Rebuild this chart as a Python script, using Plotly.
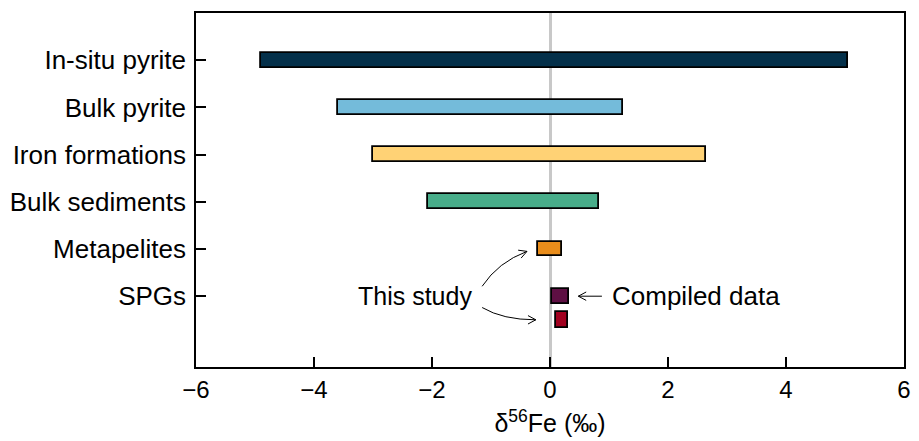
import math
import plotly.graph_objects as go

# ---- data ----
categories = ["In-situ pyrite", "Bulk pyrite", "Iron formations", "Bulk sediments", "Metapelites", "SPGs"]
cat_pos = [6, 5, 4, 3, 2, 1]
range_min = [-4.90, -3.60, -3.00, -2.07, -0.20, 0.03]
range_max = [5.05, 1.23, 2.64, 0.83, 0.20, 0.33]
colors = ["#04304A", "#74BBDA", "#FFD275", "#48AD8A", "#E98D1B", "#5E0F43"]

study_pos = [0.5]
study_min = [0.10]
study_max = [0.31]
study_color = "#A1001F"

x_ticks = [-6, -4, -2, 0, 2, 4, 6]

# ---- figure ----
fig = go.Figure()
fig.add_trace(go.Bar(
    y=cat_pos, x=[b - a for a, b in zip(range_min, range_max)], base=range_min,
    orientation="h", width=0.31,
    marker=dict(color=colors, line=dict(color="black", width=1.8)),
    showlegend=False, hoverinfo="skip"))
fig.add_trace(go.Bar(
    y=study_pos, x=[b - a for a, b in zip(study_min, study_max)], base=study_min,
    orientation="h", width=0.33,
    marker=dict(color=study_color, line=dict(color="black", width=1.8)),
    showlegend=False, hoverinfo="skip"))

FONT = "Liberation Sans, Arial, Helvetica, sans-serif"

# pixel scale helpers (plot area 715 x 355 px)
PX_X = 715 / 12.0
PX_Y = 355 / 7.5

shapes = []

def curve(x0, y0, cx, cy, x1, y1):
    shapes.append(dict(type="path", xref="x", yref="y",
                       path=f"M {x0},{y0} Q {cx},{cy} {x1},{y1}",
                       line=dict(color="black", width=1)))

def chevron(tx, ty, fx, fy, size=9, ang=28):
    dxp = (tx - fx) * PX_X
    dyp = (ty - fy) * PX_Y
    th = math.atan2(dyp, dxp)
    pts = []
    for s in (1, -1):
        a = th + math.pi + s * math.radians(ang)
        pts.append((tx + size * math.cos(a) / PX_X, ty + size * math.sin(a) / PX_Y))
    path = f"M {pts[0][0]},{pts[0][1]} L {tx},{ty} L {pts[1][0]},{pts[1][1]}"
    shapes.append(dict(type="path", xref="x", yref="y", path=path,
                       line=dict(color="black", width=1)))

# upper "This study" arrow
curve(-1.15, 1.21, -0.88, 1.72, -0.39, 1.95)
chevron(-0.39, 1.95, -0.88, 1.72)
# lower "This study" arrow
curve(-1.15, 0.76, -0.80, 0.50, -0.24, 0.50)
chevron(-0.24, 0.50, -0.80, 0.50)
# compiled data arrow
shapes.append(dict(type="line", xref="x", yref="y", x0=0.88, y0=1, x1=0.48, y1=1,
                   line=dict(color="black", width=1)))
chevron(0.48, 1, 0.88, 1)

fig.update_layout(
    width=919, height=441,
    margin=dict(l=196, r=8, t=13, b=73),
    paper_bgcolor="white", plot_bgcolor="white",
    font=dict(family=FONT, size=24, color="black"),
    bargap=0,
    shapes=shapes,
    annotations=[
        dict(x=-1.29, y=1, xref="x", yref="y", text="This study", showarrow=False,
             xanchor="right", yanchor="middle", font=dict(size=25, family=FONT)),
        dict(x=1.02, y=1, xref="x", yref="y", text="Compiled data", showarrow=False,
             xanchor="left", yanchor="middle", font=dict(size=26, family=FONT)),
    ],
    xaxis=dict(range=[-6, 6], tickvals=x_ticks, ticks="inside", ticklen=10,
               tickwidth=1.5, tickcolor="black", showline=True, linecolor="black",
               linewidth=1.5, mirror=True, showgrid=False,
               zeroline=True, zerolinecolor="#C8C8C8", zerolinewidth=3,
               tickfont=dict(size=24, family=FONT),
               title=dict(text="δ<sup>56</sup>Fe (‰)", font=dict(size=25, family=FONT), standoff=13)),
    yaxis=dict(range=[-0.5, 7], tickvals=cat_pos, ticktext=categories,
               ticks="inside", ticklen=10, tickwidth=1.5, tickcolor="black",
               showline=True, linecolor="black", linewidth=1.5, mirror=True,
               showgrid=False, zeroline=False, ticklabelstandoff=3,
               tickfont=dict(size=26, family=FONT)),
)

fig.write_html("out.html", config={"displayModeBar": False},
               post_script="document.body.style.margin='0';document.body.style.overflow='hidden';")
